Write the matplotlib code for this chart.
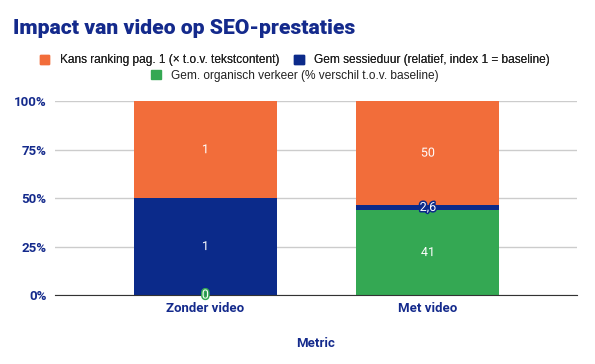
import numpy as np
import matplotlib.pyplot as plt
import matplotlib.patheffects as pe
from matplotlib.patches import Patch

plt.rcParams['font.family'] = ['Roboto', 'DejaVu Sans']

# data
categories = ['Zonder video', 'Met video']
series_names = ['Gem. organisch verkeer (% verschil t.o.v. baseline)',
                'Gem sessieduur (relatief, index 1 = baseline)',
                'Kans ranking pag. 1 (× t.o.v. tekstcontent)']
organisch = [0, 41]
sessieduur = [1, 2.6]
ranking = [1, 50]

colors = ['#34a853', '#0b2a8a', '#f26d3a']
navy = '#142a8c'

values = np.array([organisch, sessieduur, ranking], dtype=float)
totals = values.sum(axis=0)
shares = values / totals * 100

fig = plt.figure(figsize=(5.95, 3.64), dpi=100, facecolor='white')
ax = fig.add_axes([55/595, 1-295/364, (577-55)/595, (295-101.3)/364])

x = np.arange(len(categories))
bottom = np.zeros(len(categories))
for i in range(3):
    ax.bar(x, shares[i], 0.643, bottom=bottom, color=colors[i], zorder=2)
    for j in range(len(categories)):
        v = values[i][j]
        txt = ('%g' % v).replace('.', ',')
        ax.text(x[j], bottom[j] + shares[i][j] / 2, txt, ha='center', va='center',
                color='white', fontsize=9, zorder=4,
                path_effects=[pe.withStroke(linewidth=2.2, foreground=colors[i])])
    bottom += shares[i]

ax.set_xlim(-0.676, 1.67)
ax.set_ylim(0, 100)
ax.set_yticks([0, 25, 50, 75, 100])
ax.set_yticklabels(['0%', '25%', '50%', '75%', '100%'], fontsize=9.5,
                   fontweight='bold', color=navy)
ax.set_xticks(x)
ax.set_xticklabels(categories, fontsize=9.5, fontweight='bold', color=navy)
ax.tick_params(length=0)
ax.tick_params(axis='x', pad=5)
ax.tick_params(axis='y', pad=6)
ax.grid(axis='y', color='#cccccc', lw=1, zorder=0)
for s in ('top', 'right', 'left'):
    ax.spines[s].set_visible(False)
ax.spines['bottom'].set_color('#333333')
ax.spines['bottom'].set_zorder(3)
ax.set_xlabel('Metric', fontsize=9.5, fontweight='bold', color=navy, labelpad=16)

fig.text(13/595, 1-29/364, 'Impact van video op SEO-prestaties', fontsize=15.2,
         fontweight='heavy', color=navy, va='center', ha='left')

legfont = {'family': 'Liberation Sans', 'size': 8.6}
legkw = dict(frameon=False, prop=legfont, handlelength=0.8, handleheight=0.8,
             handletextpad=0.9, columnspacing=1.2, borderpad=0, labelcolor='#222222')
h = [Patch(color=colors[2]), Patch(color=colors[1])]
leg1 = fig.legend(h, [series_names[2], series_names[1]], ncol=2,
                  loc='center', bbox_to_anchor=(295/595, 1-60.5/364), **legkw)
fig.legend([Patch(color=colors[0])], [series_names[0]],
           loc='center', bbox_to_anchor=(295/595, 1-75.5/364), **legkw)
fig.add_artist(leg1)

fig.savefig('out.png', dpi=100, facecolor='white')
